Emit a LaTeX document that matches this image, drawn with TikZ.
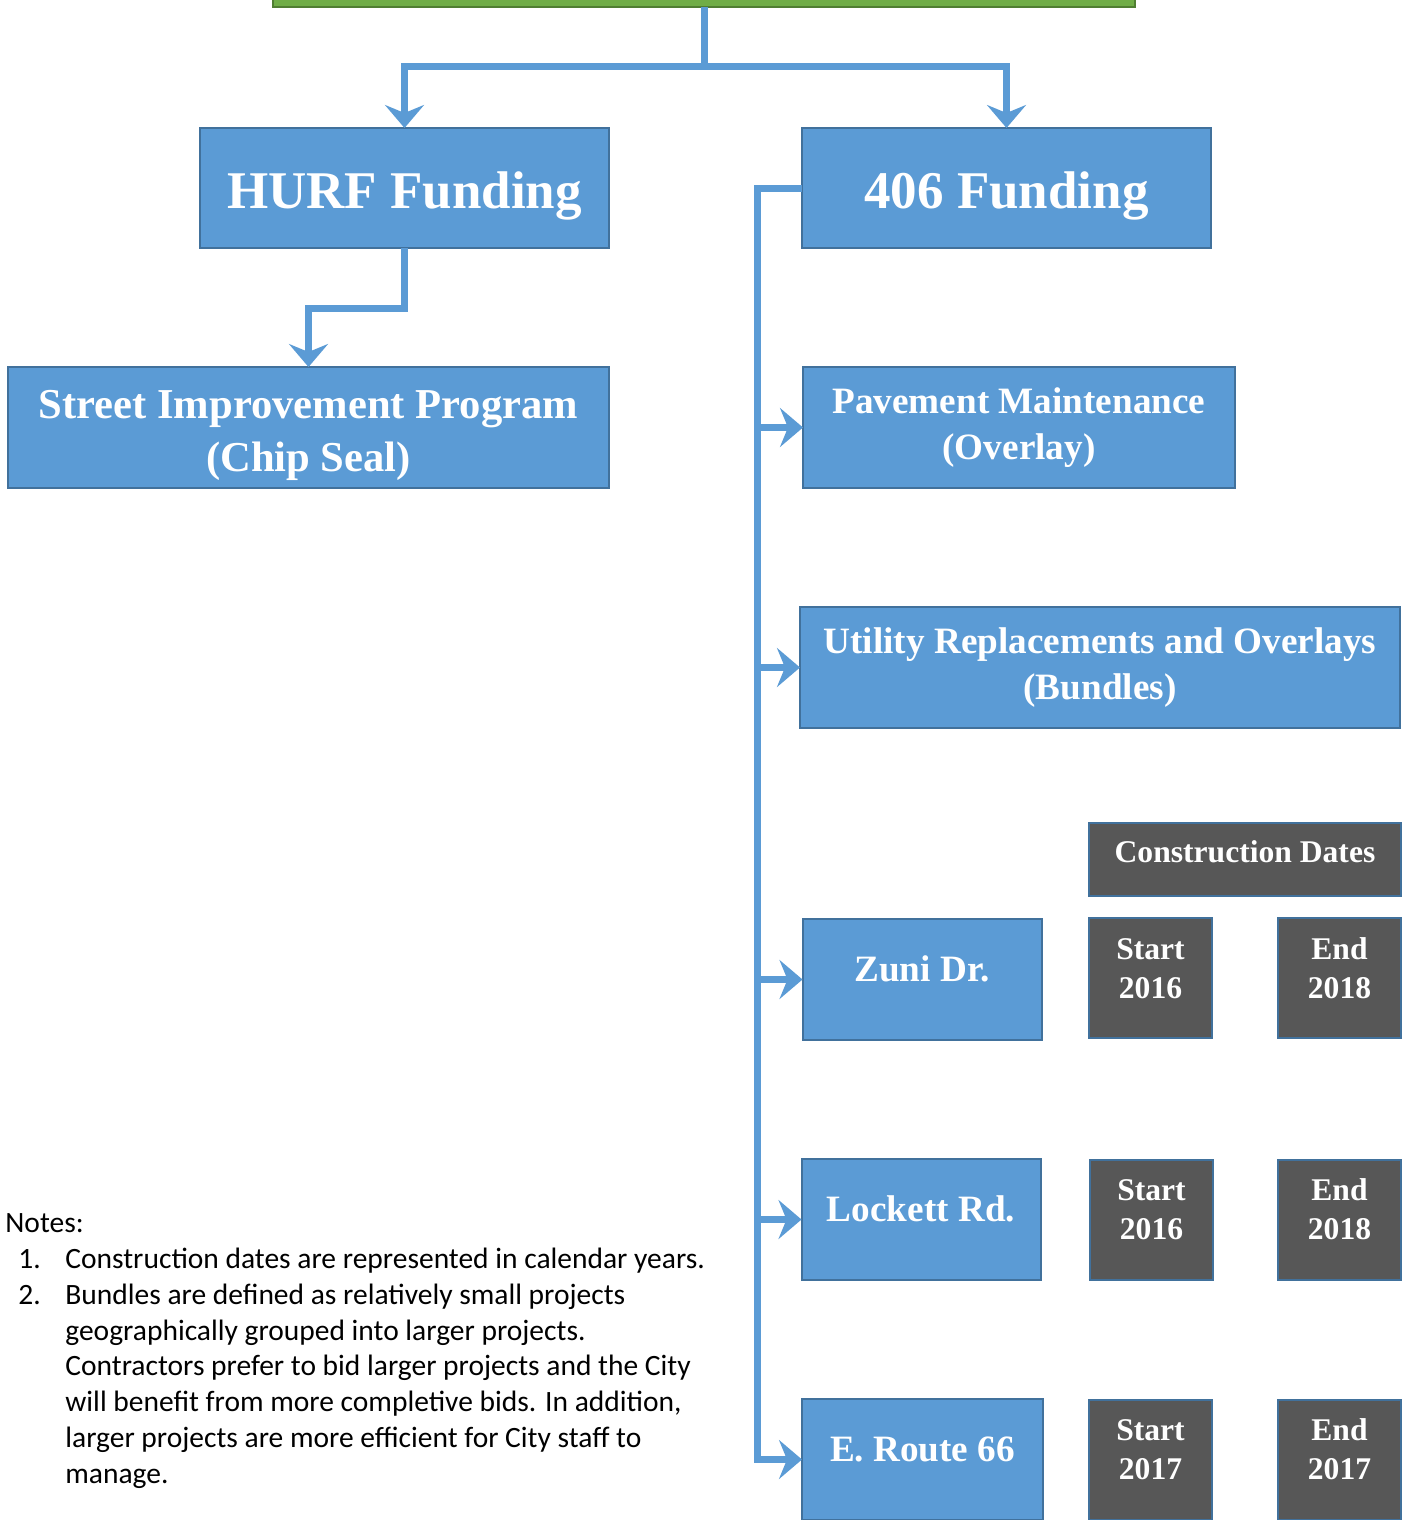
\documentclass[tikz,border=0pt]{standalone}
\usepackage{fontspec}
\setmainfont{Liberation Serif}
\newfontfamily\notefont{Carlito}
\usetikzlibrary{arrows.meta}
\definecolor{boxblue}{HTML}{5B9BD5}
\definecolor{edgeblue}{HTML}{41719C}
\definecolor{boxgreen}{HTML}{70AD47}
\definecolor{edgegreen}{HTML}{507E32}
\definecolor{boxgray}{HTML}{575757}

\begin{document}
\begin{tikzpicture}[x=0.5pt,y=-0.5pt,
  box/.style={draw=edgeblue,fill=boxblue,line width=1pt,text=white,align=center,inner sep=0pt,outer sep=0pt},
  fundbox/.style={box,minimum width=204.5pt,minimum height=60pt,text height=20.6pt,text depth=0pt,font=\bfseries\fontsize{26.5}{33}\selectfont},
  progbox/.style={box,minimum height=60.5pt,font=\bfseries\fontsize{18.6}{23}\selectfont},
  roadbox/.style={progbox,minimum width=119.5pt,text height=12pt,text depth=10pt},
  datebox/.style={box,fill=boxgray,minimum width=61.5pt,minimum height=60pt,text height=20.4pt,text depth=0pt,font=\bfseries\fontsize{15.8}{19.5}\selectfont},
  link/.style={draw=boxblue,line width=3.5pt,-{Stealth[length=11.5pt,width=19.5pt,inset=4pt]}}]
\useasboundingbox (0,0) rectangle (1406,1520);
\node[box,draw=edgegreen,fill=boxgreen,minimum width=431pt,minimum height=30pt] (top) at (704,-23) {};
\node[fundbox] (hurf) at (404.5,188) {HURF Funding};
\node[fundbox] (f406) at (1006.5,188) {406 Funding};
\node[progbox,minimum width=300.5pt,text height=43.9pt,text depth=0pt,font=\bfseries\fontsize{21.3}{26.5}\selectfont] (sip) at (308.5,427.5) {Street Improvement Program\\(Chip Seal)};
\node[progbox,minimum width=216pt] (pave) at (1019,427.5) {Pavement Maintenance\\(Overlay)};
\node[progbox,minimum width=300pt] (util) at (1100,667.5) {Utility Replacements and Overlays\\(Bundles)};
\node[datebox,minimum width=156pt,minimum height=36.5pt,text height=7pt,text depth=3.6pt] (dates) at (1245,859.5) {Construction Dates};
\node[roadbox] (zuni) at (922,979.5) {Zuni Dr.};
\node[datebox] (zstart) at (1150.5,978) {Start\\2016};
\node[datebox] (zend) at (1339.5,978) {End\\2018};
\node[roadbox] (lockett) at (921,1219.5) {Lockett Rd.};
\node[datebox] (lstart) at (1151.5,1219.5) {Start\\2016};
\node[datebox] (lend) at (1339.5,1219.5) {End\\2018};
\node[roadbox,minimum width=120.5pt] (route) at (922.5,1459.5) {E. Route 66};
\node[datebox] (rstart) at (1150.5,1459.5) {Start\\2017};
\node[datebox] (rend) at (1339.5,1459.5) {End\\2017};
\draw[link] (top.south) -- ++(0,60) -| (hurf.north);
\draw[link] (top.south) -- ++(0,60) -| (f406.north);
\draw[link] (hurf.south) -- ++(0,60) -| (sip.north);
\draw[link] (f406.west) -- ++(-45,0) |- (pave.west);
\draw[link] (f406.west) -- ++(-45,0) |- (util.west);
\draw[link] (f406.west) -- ++(-45,0) |- (zuni.west);
\draw[link] (f406.west) -- ++(-45,0) |- (lockett.west);
\draw[link] (f406.west) -- ++(-45,0) |- (route.west);
\node[anchor=north west,inner sep=0pt,align=left,font=\notefont\fontsize{14.75}{17.95}\selectfont] (notes) at (5,1213) {Notes:\\
\hspace*{6.5pt}\makebox[23.5pt][l]{1.}Construction dates are represented in calendar years.\\
\hspace*{6.5pt}\makebox[23.5pt][l]{2.}Bundles are defined as relatively small projects\\
\hspace*{30pt}geographically grouped into larger projects.\\
\hspace*{30pt}Contractors prefer to bid larger projects and the City\\
\hspace*{30pt}will benefit from more completive bids. In addition,\\
\hspace*{30pt}larger projects are more efficient for City staff to\\
\hspace*{30pt}manage.};
\end{tikzpicture}
\end{document}
